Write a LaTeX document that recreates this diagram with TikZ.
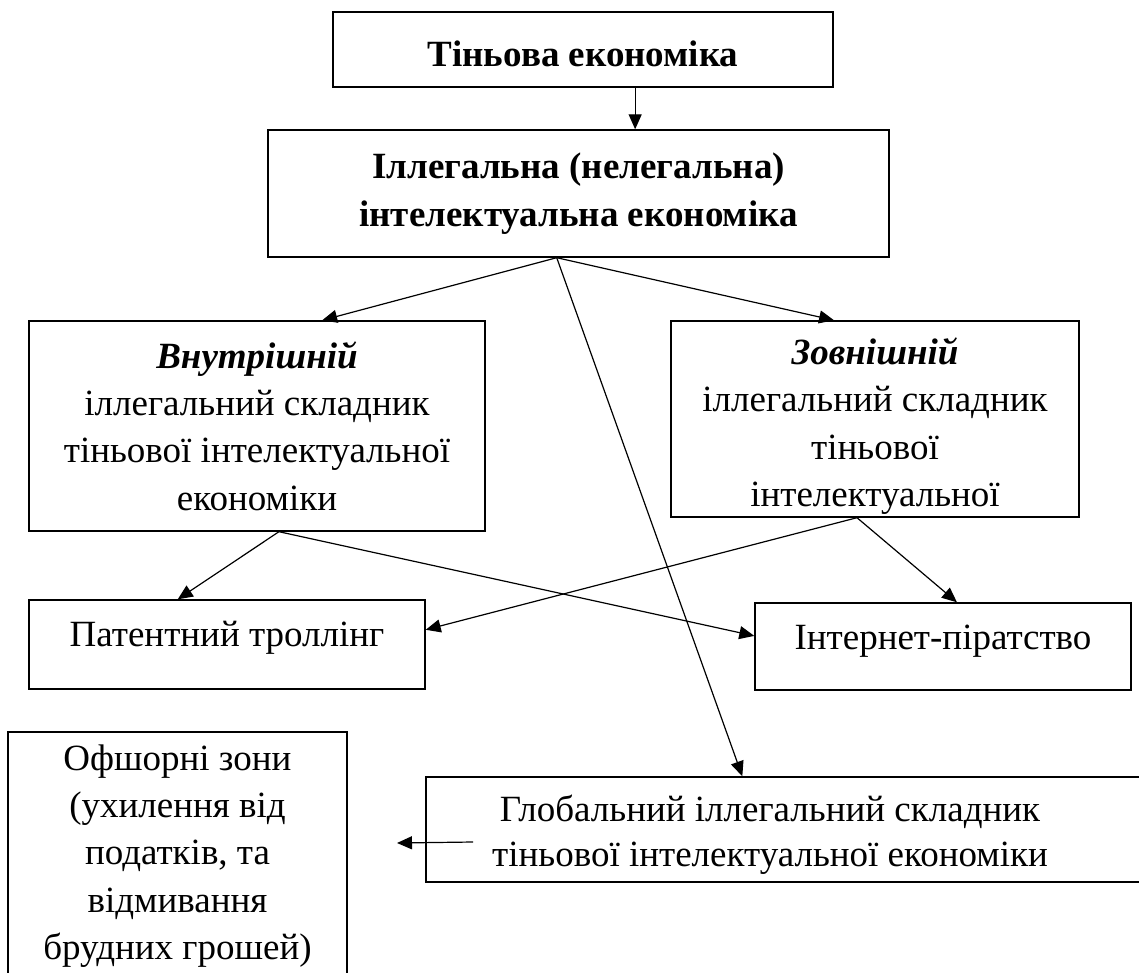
\documentclass[tikz,border=0pt]{standalone}
\usepackage{fontspec}
\setmainfont{Liberation Serif}
\usetikzlibrary{arrows.meta,calc}
\begin{document}
\begin{tikzpicture}[x=0.5pt,y=-0.5pt,
  box/.style={draw, line width=0.7pt, inner sep=0pt, align=center},
  txt/.style={inner sep=0pt, align=center},
  fnt/.style={font=\fontsize{18.5}{23.7}\selectfont},
  arr/.style={line width=0.6pt, -{Triangle[length=7.5pt,width=6.5pt]}}]
\useasboundingbox (0,0) rectangle (1139,973);
\fill[white] (0,0) rectangle (1139,973);

\node[box,fnt,minimum width=250pt,minimum height=37.5pt,text height=17pt] (b1) at (583,49.5) {\textbf{Тіньова економіка}};
\node[box,font=\fontsize{18.5}{24}\selectfont,minimum width=310.5pt,minimum height=63.5pt] (b2) at (578.5,193.5)
  {\textbf{Іллегальна (нелегальна)}\\\textbf{інтелектуальна економіка}};
\node[box,fnt,minimum width=228pt,minimum height=105pt] (b3) at (257,426)
  {\textbf{\textit{Внутрішній}}\\іллегальний складник\\тіньової інтелектуальної\\економіки};
\node[box,minimum width=204pt,minimum height=98pt] (b4) at (875,419) {};
\node[txt,fnt] (b4t) at (875,426)
  {\textbf{\textit{Зовнішній}}\\іллегальний складник\\тіньової\\інтелектуальної};
\node[box,fnt,minimum width=198pt,minimum height=44.5pt,text depth=10.5pt] (b5) at (227,644.5) {Патентний троллінг};
\node[box,fnt,minimum width=188pt,minimum height=43.5pt,text depth=9pt] (b6) at (943,646.5) {Інтернет-піратство};
\node[box,fnt,minimum width=169.5pt,minimum height=124pt] (b7) at (177.5,856)
  {Офшорні зони\\(ухилення від\\податків, та\\відмивання\\брудних грошей)};
\node[box,minimum width=367pt,minimum height=52.5pt] (b8) at (793,829.5) {};
\node[txt,font=\fontsize{18.5}{22.5}\selectfont] (b8t) at (770,834.5)
  {Глобальний іллегальний складник\\тіньової інтелектуальної економіки};

\coordinate (a1s) at ($(b1.south west)!0.604!(b1.south east)$);
\coordinate (s2) at ($(b2.south west)!0.465!(b2.south east)$);
\coordinate (s3) at ($(b3.south west)!0.548!(b3.south east)$);
\coordinate (s4) at ($(b4.south west)!0.456!(b4.south east)$);
\coordinate (ftail) at (473,842);
\coordinate (fhead) at (397,843);

\draw[arr] (a1s) -- (a1s |- b2.north);
\draw[arr] (s2) -- ($(b3.north west)!0.6425!(b3.north east)$);
\draw[arr] (s2) -- ($(b4.north west)!0.40!(b4.north east)$);
\draw[arr] (s2) -- ([xshift=158.5pt]b8.north west);
\draw[arr] (s3) -- ($(b5.north west)!0.376!(b5.north east)$);
\draw[arr] (s3) -- ($(b6.north west)!0.38!(b6.south west)$);
\draw[arr] (s4) -- ($(b5.north east)!0.337!(b5.south east)$);
\draw[arr] (s4) -- ($(b6.north west)!0.537!(b6.north east)$);
\draw[arr] (ftail) -- (fhead);
\end{tikzpicture}
\end{document}
